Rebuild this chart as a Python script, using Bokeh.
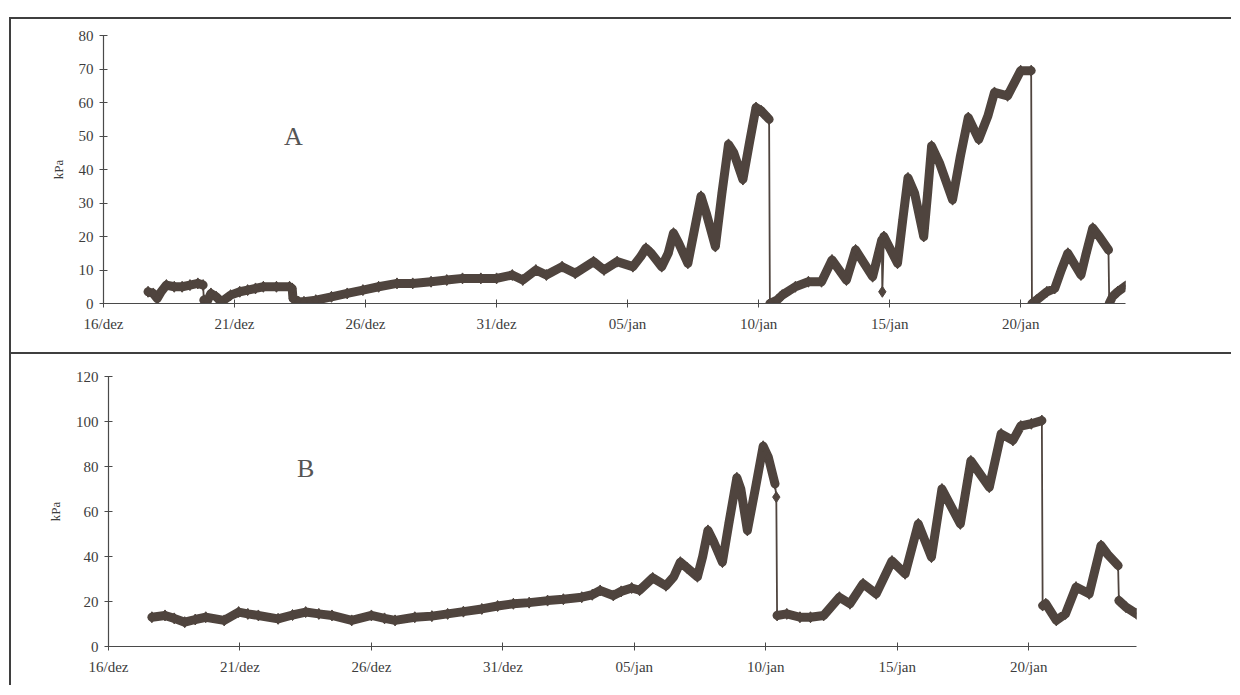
from bokeh.plotting import figure
from bokeh.layouts import column, row
from bokeh.models import Range1d, FixedTicker, Label, Div, Spacer
from bokeh.embed import file_html
from bokeh.resources import INLINE

# ---------------- data ----------------
# x = days since 16/dez
tick_days = [0, 5, 10, 15, 20, 25, 30, 35]
tick_labels = ["16/dez", "21/dez", "26/dez", "31/dez", "05/jan", "10/jan", "15/jan", "20/jan"]

a_ticks = [0, 10, 20, 30, 40, 50, 60, 70, 80]
b_ticks = [0, 20, 40, 60, 80, 100, 120]

a_day = [1.7, 1.9, 2.05, 2.2, 2.4, 2.7, 3.0, 3.3, 3.6, 3.8, 3.83, 3.95, 4.1, 4.3, 4.5, 4.85,
         5.2, 5.5, 5.8, 6.1, 6.6, 7.1, 7.2, 7.23, 7.45, 7.65, 8.1, 8.7, 9.3, 9.9, 10.5, 11.2,
         11.8, 12.5, 13.1, 13.7, 14.4, 15.0, 15.6, 16.0, 16.5, 16.9, 17.5, 18.0, 18.7, 19.1,
         19.6, 20.2, 20.5, 20.7, 20.9, 21.3, 21.55, 21.75, 21.95, 22.3, 22.55, 22.8, 23.0,
         23.35, 23.6, 23.85, 24.05, 24.4, 24.65, 24.9, 25.1, 25.4, 25.43, 25.7, 25.9, 26.4,
         26.9, 27.4, 27.8, 28.35, 28.7, 29.35, 29.7, 29.72, 29.78, 30.3, 30.5, 30.7, 30.95,
         31.3, 31.45, 31.6, 31.9, 32.4, 32.7, 33.0, 33.4, 33.75, 34.0, 34.5, 35.0, 35.4,
         35.43, 35.6, 36.0, 36.3, 36.55, 36.8, 37.3, 37.5, 37.75, 38.0, 38.35, 38.38, 38.5,
         38.7, 39.05]
a_kpa = [3.5, 3.0, 1.5, 3.5, 5.5, 5.0, 5.0, 5.5, 6.0, 5.5, 1.0, 0.5, 3.0, 2.0, 0.5, 2.5,
         3.5, 4.0, 4.5, 5.0, 5.0, 5.0, 4.5, 1.5, 0.5, 0.5, 1.0, 2.0, 3.0, 4.0, 5.0, 6.0,
         6.0, 6.5, 7.0, 7.5, 7.5, 7.5, 8.5, 7.0, 10.0, 8.5, 11.0, 9.0, 12.5, 10.0,
         12.5, 11.0, 14.0, 16.5, 15.0, 11.0, 15.0, 21.0, 18.0, 12.0, 22.0, 32.0, 27.0,
         17.0, 33.0, 47.5, 45.0, 37.0, 48.0, 58.5, 57.5, 55.0, 0.0, 1.0, 2.5, 5.0,
         6.5, 6.5, 13.0, 7.0, 16.0, 8.0, 19.0, 3.5, 20.0, 12.0, 25.0, 37.5, 33.0,
         20.0, 33.0, 47.0, 42.0, 31.0, 44.0, 55.5, 49.0, 56.0, 63.0, 62.0, 69.5, 69.5,
         0.0, 1.0, 3.5, 4.5, 10.0, 15.0, 8.5, 15.0, 22.5, 20.0, 16.0, 0.0, 2.0,
         3.5, 5.5]

b_day = [1.65, 2.15, 2.5, 2.9, 3.3, 3.7, 4.4, 4.95, 5.3, 5.7, 6.45, 7.0, 7.5, 8.0, 8.5,
         9.25, 10.0, 10.5, 10.9, 11.65, 12.3, 12.9, 13.5, 14.2, 14.8, 15.4, 16.0, 16.7,
         17.3, 18.0, 18.4, 18.7, 19.2, 19.5, 19.9, 20.2, 20.7, 21.2, 21.5, 21.75, 22.0,
         22.4, 22.6, 22.8, 23.0, 23.35, 23.6, 23.9, 24.05, 24.3, 24.6, 24.9, 25.1, 25.35,
         25.4, 25.43, 25.8, 26.3, 26.7, 27.2, 27.8, 28.2, 28.7, 29.2, 29.8, 30.3, 30.8,
         31.3, 31.7, 32.4, 32.8, 33.5, 33.95, 34.4, 34.7, 35.1, 35.5, 35.53, 35.65, 36.05,
         36.4, 36.8, 37.3, 37.75, 38.0, 38.4, 38.43, 38.7, 39.1]
b_kpa = [13.0, 13.8, 12.5, 10.8, 12.0, 13.0, 11.6, 15.3, 14.5, 13.8, 12.3, 14.0, 15.3, 14.5, 13.8,
         11.6, 13.8, 12.5, 11.6, 13.0, 13.5, 14.5, 15.5, 16.7, 18.0, 19.0, 19.5, 20.4,
         21.0, 21.9, 23.0, 24.9, 22.7, 24.5, 26.0, 25.0, 30.5, 27.0, 31.0, 37.5, 35.0,
         31.0, 40.0, 51.6, 47.0, 37.5, 55.0, 75.0, 70.0, 51.6, 70.0, 89.0, 84.0, 72.3,
         66.4, 13.8, 14.5, 13.0, 13.0, 13.8, 21.9, 19.0, 27.9, 23.4, 38.0, 32.3, 54.5,
         39.7, 70.0, 54.5, 82.5, 70.8, 94.5, 91.6, 98.0, 99.0, 100.4, 18.2, 19.0, 11.6,
         14.5, 26.4, 23.4, 44.9, 41.0, 36.0, 20.4, 17.5, 14.5]

# ---------------- style ----------------
INK = "#4f443e"
AXIS = "#4a4a4a"
TXT = "#3c3c3c"
FONT = "Liberation Serif"
RULE = "#3f3f3f"


def thick_path(days, vals):
    xs, ys = [days[0]], [vals[0]]
    for i in range(1, len(days)):
        if days[i] - days[i - 1] < 0.1 and abs(vals[i] - vals[i - 1]) > 4:
            xs.append(float("nan"))
            ys.append(float("nan"))
        xs.append(days[i])
        ys.append(vals[i])
    return xs, ys


def make_panel(days, vals, yticks, x_end, fw, fh, bl, bt, br, bb, letter, lx, ly):
    p = figure(output_backend="svg", toolbar_location=None,
               frame_width=fw, frame_height=fh,
               x_range=Range1d(0, x_end), y_range=Range1d(yticks[0], yticks[-1]),
               min_border_left=bl, min_border_top=bt, min_border_right=br,
               min_border_bottom=bb)
    p.margin = 0
    p.outline_line_color = None
    p.background_fill_color = "white"
    p.border_fill_color = "white"
    p.xgrid.visible = False
    p.ygrid.visible = False

    xa = p.xaxis[0]
    xa.ticker = FixedTicker(ticks=tick_days)
    xa.major_label_overrides = {d: l for d, l in zip(tick_days, tick_labels)}
    ya = p.yaxis[0]
    ya.ticker = FixedTicker(ticks=yticks)
    ya.axis_label = "kPa"
    ya.axis_label_text_font = FONT
    ya.axis_label_text_font_size = "13px"
    ya.axis_label_text_font_style = "normal"
    ya.axis_label_text_color = TXT
    ya.axis_label_standoff = 10
    for ax in (xa, ya):
        ax.axis_line_color = AXIS
        ax.axis_line_width = 1.2
        ax.major_tick_line_color = AXIS
        ax.major_tick_in = 4
        ax.major_tick_out = 4
        ax.minor_tick_line_color = None
        ax.major_label_text_font = FONT
        ax.major_label_text_font_size = "15px"
        ax.major_label_text_color = TXT
    xa.major_label_standoff = 8
    ya.major_label_standoff = 6

    tx, ty = thick_path(days, vals)
    p.line(days, vals, line_width=1.8, color=INK)
    p.line(tx, ty, line_width=9, color=INK, line_join="round", line_cap="round")
    p.scatter(days, vals, marker="diamond", size=11, color=INK)

    p.add_layout(Label(x=lx, y=ly, text=letter, text_font=FONT, text_font_size="26px",
                       text_align="center", text_baseline="middle", text_color="#555555"))
    return p


# panel A: 26.2 px/day, 3.35 px/kPa ; panel B: 26.3 px/day, 2.25 px/kPa
p1 = make_panel(a_day, a_kpa, a_ticks, 39.0, 1022, 268, 92, 16, 106, 49, "A", 7.25, 50)
p2 = make_panel(b_day, b_kpa, b_ticks, 39.1, 1028, 270, 97, 22, 95, 39, "B", 7.5, 79)


def sp(w, h):
    return Spacer(width=w, height=h, margin=0)


def bar(w, h):
    return Div(text="", width=w, height=h, margin=0, styles={"background-color": RULE})


layout = column(
    sp(10, 17),
    row(sp(9, 2), bar(1222, 2), margin=0, spacing=0),
    row(sp(9, 333), bar(2, 333), p1, margin=0, spacing=0),
    row(sp(9, 2), bar(1222, 2), margin=0, spacing=0),
    row(sp(9, 331), bar(2, 331), p2, margin=0, spacing=0),
    margin=0, spacing=0,
)
open("out.html", "w").write(file_html(layout, INLINE))
